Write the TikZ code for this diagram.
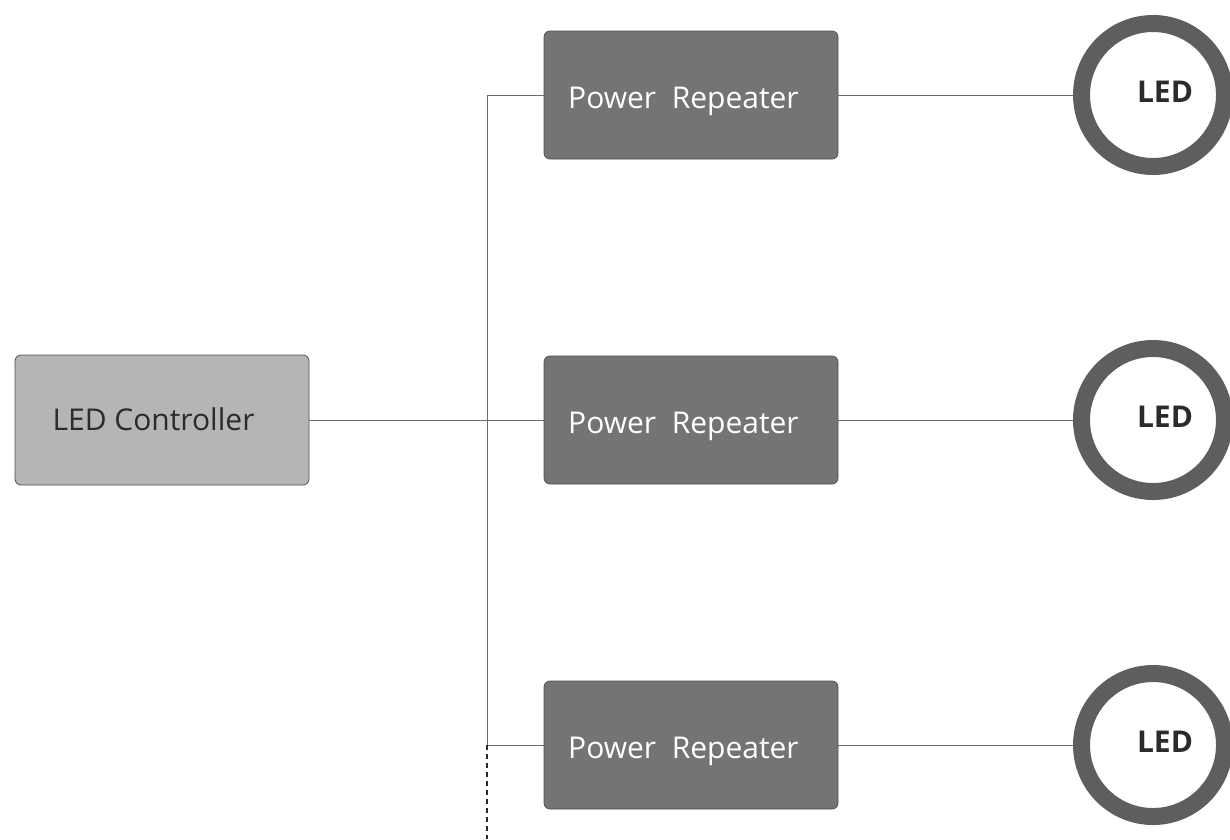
\documentclass[tikz,border=0pt]{standalone}
\usepackage{fontspec}
\setmainfont{Open Sans}
\definecolor{ctrlfill}{HTML}{B5B5B5}
\definecolor{repfill}{HTML}{747474}
\definecolor{edge}{HTML}{505050}
\definecolor{ring}{HTML}{5E5E5E}
\definecolor{wire}{HTML}{6A6A6A}
\definecolor{txt}{HTML}{2E2A2A}
\begin{document}
\begin{tikzpicture}[x=1pt,y=-1pt,
  ctrlbox/.style={draw=edge,line width=0.8pt,fill=ctrlfill,rounded corners=6pt,minimum width=294pt,minimum height=130pt,inner sep=0pt,text=txt,font=\fontsize{30}{34}\selectfont},
  repbox/.style={draw=edge,line width=0.8pt,fill=repfill,rounded corners=6pt,minimum width=294pt,minimum height=128pt,inner sep=0pt,text=white,font=\fontsize{30}{34}\selectfont},
  ledring/.style={circle,draw=ring,line width=17pt,minimum size=143pt,inner sep=0pt,fill=white,text=txt,font=\bfseries\fontsize{30}{34}\selectfont},
  wireline/.style={draw=wire,line width=1pt}]
\useasboundingbox (0,0) rectangle (1230,839);
\node[ctrlbox] (ctrl) at (162,420) {\hspace*{-17pt}\raisebox{-10.7pt}[0pt][0pt]{LED Controller}};
\node[repbox] (r1) at (691,95) {\hspace*{-15pt}\raisebox{-13pt}[0pt][0pt]{Power~~Repeater}};
\node[repbox] (r2) at (691,420) {\hspace*{-15pt}\raisebox{-13pt}[0pt][0pt]{Power~~Repeater}};
\node[repbox] (r3) at (691,745) {\hspace*{-15pt}\raisebox{-13pt}[0pt][0pt]{Power~~Repeater}};
\node[ledring] (l1) at (1153,95) {\hspace*{24pt}\raisebox{-7pt}[0pt][0pt]{LED}};
\node[ledring] (l2) at (1153,420) {\hspace*{24pt}\raisebox{-7pt}[0pt][0pt]{LED}};
\node[ledring] (l3) at (1153,745) {\hspace*{24pt}\raisebox{-7pt}[0pt][0pt]{LED}};
\coordinate (bus1) at (487,95);
\coordinate (bus3) at (487,745);
\coordinate (busend) at (487,839);
\draw[wireline] (ctrl.east) -- (r2.west);
\draw[wireline] (r1.west) -- (bus1) -- (bus3) -- (r3.west);
\draw[draw=txt,line width=1.4pt,dash pattern=on 5pt off 4pt] (bus3) -- (busend);
\draw[wireline] (r1.east) -- (l1.west);
\draw[wireline] (r2.east) -- (l2.west);
\draw[wireline] (r3.east) -- (l3.west);
\end{tikzpicture}
\end{document}
